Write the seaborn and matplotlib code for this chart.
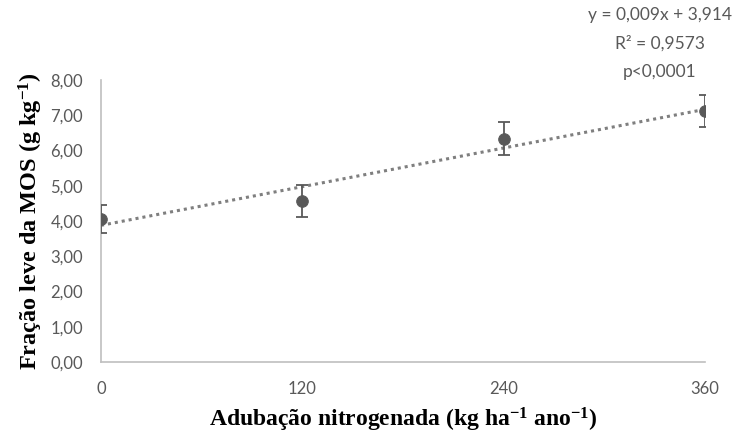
import numpy as np
import matplotlib
matplotlib.use("Agg")
import matplotlib.pyplot as plt
import seaborn as sns
import pandas as pd

# data
doses = [0, 120, 240, 360]
mos_leve = [4.06, 4.57, 6.33, 7.13]
erro = [0.40, 0.45, 0.47, 0.45]
y_ticks = [0, 1, 2, 3, 4, 5, 6, 7, 8]
x_ticks = [0, 120, 240, 360]
eq_lines = ["y = 0,009x + 3,914", "R² = 0,9573", "p<0,0001"]

df = pd.DataFrame({"dose": doses, "mos": mos_leve, "erro": erro})

sns.set_style("white")
plt.rcParams['font.family'] = ['Lato', 'DejaVu Sans']
plt.rcParams['mathtext.fontset'] = 'custom'
plt.rcParams['mathtext.rm'] = 'Liberation Serif:bold'
plt.rcParams['mathtext.it'] = 'Liberation Serif:bold'
plt.rcParams['mathtext.bf'] = 'Liberation Serif:bold'

grey = "#595959"

fig = plt.figure(figsize=(7.38, 4.41), dpi=100)
ax = fig.add_axes([101/738, 1-362/441, (705-101)/738, (362-80)/441])

# trend line (linear fit, dotted)
sns.regplot(data=df, x="dose", y="mos", ax=ax, scatter=False, ci=None,
            line_kws={"color": "#7f7f7f", "linestyle": (0, (1, 1.3)), "linewidth": 2.2})

ax.errorbar(df["dose"], df["mos"], yerr=df["erro"], fmt="none",
            ecolor=grey, elinewidth=1.3, capsize=4, capthick=1.3, zorder=3)
sns.scatterplot(data=df, x="dose", y="mos", ax=ax, color=grey, s=70,
                edgecolor=grey, zorder=4)

ax.set_xlim(0, 360)
ax.set_ylim(0, 8)
ax.set_xticks(x_ticks)
ax.set_xticklabels([str(v) for v in x_ticks])
ax.set_yticks(y_ticks)
ax.set_yticklabels([f"{v:.2f}".replace(".", ",") for v in y_ticks])
ax.tick_params(axis="both", length=0, labelsize=12, labelcolor=grey)
ax.tick_params(axis="x", pad=14)
ax.tick_params(axis="y", pad=13)

for s in ["top", "right"]:
    ax.spines[s].set_visible(False)
for s in ["left", "bottom"]:
    ax.spines[s].set_color("#bfbfbf")
    ax.spines[s].set_linewidth(1.2)

ax.set_xlabel(r"Adubação nitrogenada (kg ha$^{\mathrm{-1}}$ ano$^{\mathrm{-1}}$)",
              fontsize=17, fontweight="bold", family="Liberation Serif", color="black",
              labelpad=6)
ax.set_ylabel(r"Fração leve da MOS (g kg$^{\mathrm{-1}}$)",
              fontsize=17.5, fontweight="bold", family="Liberation Serif", color="black",
              labelpad=4)

for i, t in enumerate(eq_lines):
    fig.text(660/738, 1 - (15 + 28.5*i)/441, t, ha="center", va="center",
             fontsize=12.5, color=grey)

fig.savefig("out.png", dpi=100)
